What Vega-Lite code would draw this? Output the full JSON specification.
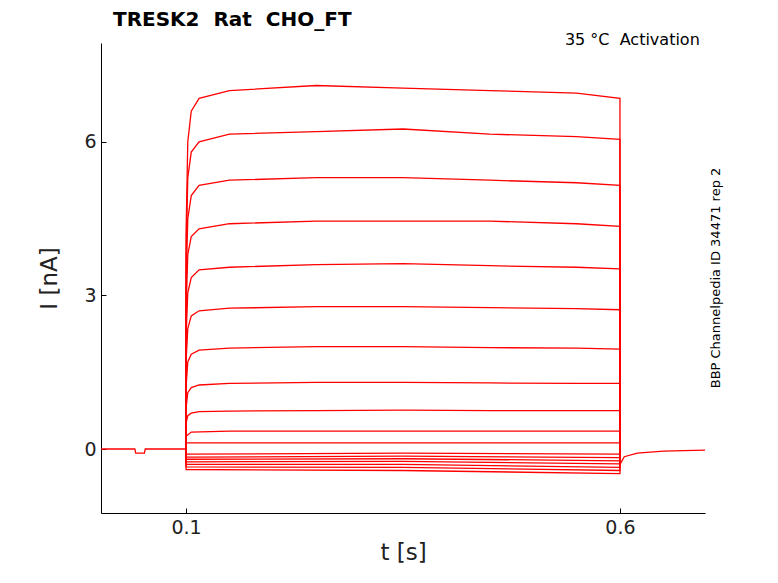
{
  "$schema": "https://vega.github.io/schema/vega-lite/v6.json",
  "width": 604,
  "height": 470,
  "autosize": {"type": "none"},
  "padding": {"left": 101, "top": 43, "right": 73, "bottom": 70},
  "config": {
    "font": "DejaVu Sans",
    "view": {"stroke": null},
    "axis": {"grid": false, "domainColor": "#000", "tickColor": "#000", "labelColor": "#222", "titleColor": "#222", "labelFontSize": 19, "titleFontSize": 23, "titleFontWeight": "normal", "tickSize": -5, "labelPadding": 10}
  },
  "title": {"text": "TRESK2\u00a0\u00a0Rat\u00a0\u00a0CHO_FT", "anchor": "start", "frame": "group", "offset": 2, "fontSize": 20, "fontWeight": "bold", "dx": 12},
  "data": {"values": [
    {"k": "base", "o": 0, "t": 0.002, "i": 0}, {"k": "base", "o": 1, "t": 0.041, "i": 0}, {"k": "base", "o": 2, "t": 0.042, "i": -0.08}, {"k": "base", "o": 3, "t": 0.052, "i": -0.08}, {"k": "base", "o": 4, "t": 0.053, "i": 0}, {"k": "base", "o": 5, "t": 0.1, "i": 0},
    {"k": "tail", "o": 0, "t": 0.6, "i": -0.3}, {"k": "tail", "o": 1, "t": 0.605, "i": -0.15}, {"k": "tail", "o": 2, "t": 0.62, "i": -0.08}, {"k": "tail", "o": 3, "t": 0.65, "i": -0.04}, {"k": "tail", "o": 4, "t": 0.698, "i": -0.02},
    {"k": "t1", "o": 0, "t": 0.1, "i": 0}, {"k": "t1", "o": 1, "t": 0.1, "i": 4.2}, {"k": "t1", "o": 2, "t": 0.102, "i": 6.0}, {"k": "t1", "o": 3, "t": 0.106, "i": 6.6}, {"k": "t1", "o": 4, "t": 0.115, "i": 6.85}, {"k": "t1", "o": 5, "t": 0.15, "i": 7.0}, {"k": "t1", "o": 6, "t": 0.25, "i": 7.1}, {"k": "t1", "o": 7, "t": 0.35, "i": 7.05}, {"k": "t1", "o": 8, "t": 0.45, "i": 7.0}, {"k": "t1", "o": 9, "t": 0.55, "i": 6.95}, {"k": "t1", "o": 10, "t": 0.6, "i": 6.85}, {"k": "t1", "o": 11, "t": 0.6, "i": 0},
    {"k": "t2", "o": 0, "t": 0.1, "i": 0}, {"k": "t2", "o": 1, "t": 0.1, "i": 3.7}, {"k": "t2", "o": 2, "t": 0.102, "i": 5.3}, {"k": "t2", "o": 3, "t": 0.106, "i": 5.8}, {"k": "t2", "o": 4, "t": 0.115, "i": 6.0}, {"k": "t2", "o": 5, "t": 0.15, "i": 6.15}, {"k": "t2", "o": 6, "t": 0.25, "i": 6.2}, {"k": "t2", "o": 7, "t": 0.35, "i": 6.25}, {"k": "t2", "o": 8, "t": 0.45, "i": 6.15}, {"k": "t2", "o": 9, "t": 0.55, "i": 6.1}, {"k": "t2", "o": 10, "t": 0.6, "i": 6.05}, {"k": "t2", "o": 11, "t": 0.6, "i": 0},
    {"k": "t3", "o": 0, "t": 0.1, "i": 0}, {"k": "t3", "o": 1, "t": 0.1, "i": 3.2}, {"k": "t3", "o": 2, "t": 0.102, "i": 4.5}, {"k": "t3", "o": 3, "t": 0.106, "i": 4.95}, {"k": "t3", "o": 4, "t": 0.115, "i": 5.15}, {"k": "t3", "o": 5, "t": 0.15, "i": 5.25}, {"k": "t3", "o": 6, "t": 0.25, "i": 5.3}, {"k": "t3", "o": 7, "t": 0.35, "i": 5.3}, {"k": "t3", "o": 8, "t": 0.45, "i": 5.25}, {"k": "t3", "o": 9, "t": 0.55, "i": 5.2}, {"k": "t3", "o": 10, "t": 0.6, "i": 5.15}, {"k": "t3", "o": 11, "t": 0.6, "i": 0},
    {"k": "t4", "o": 0, "t": 0.1, "i": 0}, {"k": "t4", "o": 1, "t": 0.1, "i": 2.7}, {"k": "t4", "o": 2, "t": 0.102, "i": 3.8}, {"k": "t4", "o": 3, "t": 0.106, "i": 4.15}, {"k": "t4", "o": 4, "t": 0.115, "i": 4.3}, {"k": "t4", "o": 5, "t": 0.15, "i": 4.4}, {"k": "t4", "o": 6, "t": 0.25, "i": 4.45}, {"k": "t4", "o": 7, "t": 0.35, "i": 4.45}, {"k": "t4", "o": 8, "t": 0.45, "i": 4.45}, {"k": "t4", "o": 9, "t": 0.55, "i": 4.4}, {"k": "t4", "o": 10, "t": 0.6, "i": 4.35}, {"k": "t4", "o": 11, "t": 0.6, "i": 0},
    {"k": "t5", "o": 0, "t": 0.1, "i": 0}, {"k": "t5", "o": 1, "t": 0.1, "i": 2.2}, {"k": "t5", "o": 2, "t": 0.102, "i": 3.05}, {"k": "t5", "o": 3, "t": 0.106, "i": 3.35}, {"k": "t5", "o": 4, "t": 0.115, "i": 3.5}, {"k": "t5", "o": 5, "t": 0.15, "i": 3.55}, {"k": "t5", "o": 6, "t": 0.25, "i": 3.6}, {"k": "t5", "o": 7, "t": 0.35, "i": 3.62}, {"k": "t5", "o": 8, "t": 0.45, "i": 3.58}, {"k": "t5", "o": 9, "t": 0.55, "i": 3.55}, {"k": "t5", "o": 10, "t": 0.6, "i": 3.52}, {"k": "t5", "o": 11, "t": 0.6, "i": 0},
    {"k": "t6", "o": 0, "t": 0.1, "i": 0}, {"k": "t6", "o": 1, "t": 0.1, "i": 1.7}, {"k": "t6", "o": 2, "t": 0.102, "i": 2.35}, {"k": "t6", "o": 3, "t": 0.106, "i": 2.6}, {"k": "t6", "o": 4, "t": 0.115, "i": 2.7}, {"k": "t6", "o": 5, "t": 0.15, "i": 2.75}, {"k": "t6", "o": 6, "t": 0.25, "i": 2.78}, {"k": "t6", "o": 7, "t": 0.35, "i": 2.78}, {"k": "t6", "o": 8, "t": 0.45, "i": 2.76}, {"k": "t6", "o": 9, "t": 0.55, "i": 2.74}, {"k": "t6", "o": 10, "t": 0.6, "i": 2.72}, {"k": "t6", "o": 11, "t": 0.6, "i": 0},
    {"k": "t7", "o": 0, "t": 0.1, "i": 0}, {"k": "t7", "o": 1, "t": 0.1, "i": 1.2}, {"k": "t7", "o": 2, "t": 0.102, "i": 1.7}, {"k": "t7", "o": 3, "t": 0.106, "i": 1.85}, {"k": "t7", "o": 4, "t": 0.115, "i": 1.93}, {"k": "t7", "o": 5, "t": 0.15, "i": 1.97}, {"k": "t7", "o": 6, "t": 0.25, "i": 2.0}, {"k": "t7", "o": 7, "t": 0.35, "i": 2.0}, {"k": "t7", "o": 8, "t": 0.45, "i": 1.98}, {"k": "t7", "o": 9, "t": 0.55, "i": 1.97}, {"k": "t7", "o": 10, "t": 0.6, "i": 1.95}, {"k": "t7", "o": 11, "t": 0.6, "i": 0},
    {"k": "t8", "o": 0, "t": 0.1, "i": 0}, {"k": "t8", "o": 1, "t": 0.1, "i": 0.8}, {"k": "t8", "o": 2, "t": 0.102, "i": 1.1}, {"k": "t8", "o": 3, "t": 0.106, "i": 1.2}, {"k": "t8", "o": 4, "t": 0.115, "i": 1.25}, {"k": "t8", "o": 5, "t": 0.15, "i": 1.28}, {"k": "t8", "o": 6, "t": 0.25, "i": 1.3}, {"k": "t8", "o": 7, "t": 0.35, "i": 1.3}, {"k": "t8", "o": 8, "t": 0.45, "i": 1.29}, {"k": "t8", "o": 9, "t": 0.55, "i": 1.28}, {"k": "t8", "o": 10, "t": 0.6, "i": 1.28}, {"k": "t8", "o": 11, "t": 0.6, "i": 0},
    {"k": "t9", "o": 0, "t": 0.1, "i": 0}, {"k": "t9", "o": 1, "t": 0.1, "i": 0.5}, {"k": "t9", "o": 2, "t": 0.102, "i": 0.65}, {"k": "t9", "o": 3, "t": 0.106, "i": 0.7}, {"k": "t9", "o": 4, "t": 0.115, "i": 0.73}, {"k": "t9", "o": 5, "t": 0.15, "i": 0.74}, {"k": "t9", "o": 6, "t": 0.25, "i": 0.75}, {"k": "t9", "o": 7, "t": 0.35, "i": 0.76}, {"k": "t9", "o": 8, "t": 0.45, "i": 0.75}, {"k": "t9", "o": 9, "t": 0.55, "i": 0.75}, {"k": "t9", "o": 10, "t": 0.6, "i": 0.75}, {"k": "t9", "o": 11, "t": 0.6, "i": 0},
    {"k": "t10", "o": 0, "t": 0.1, "i": 0}, {"k": "t10", "o": 1, "t": 0.1, "i": 0.25}, {"k": "t10", "o": 2, "t": 0.106, "i": 0.33}, {"k": "t10", "o": 3, "t": 0.15, "i": 0.35}, {"k": "t10", "o": 4, "t": 0.6, "i": 0.35}, {"k": "t10", "o": 5, "t": 0.6, "i": 0},
    {"k": "t11", "o": 0, "t": 0.1, "i": 0}, {"k": "t11", "o": 1, "t": 0.1, "i": 0.12}, {"k": "t11", "o": 2, "t": 0.6, "i": 0.12}, {"k": "t11", "o": 3, "t": 0.6, "i": 0},
    {"k": "t12", "o": 0, "t": 0.1, "i": 0}, {"k": "t12", "o": 1, "t": 0.1, "i": -0.1}, {"k": "t12", "o": 2, "t": 0.35, "i": -0.08}, {"k": "t12", "o": 3, "t": 0.6, "i": -0.1}, {"k": "t12", "o": 4, "t": 0.6, "i": 0},
    {"k": "t13", "o": 0, "t": 0.1, "i": 0}, {"k": "t13", "o": 1, "t": 0.1, "i": -0.16}, {"k": "t13", "o": 2, "t": 0.35, "i": -0.14}, {"k": "t13", "o": 3, "t": 0.6, "i": -0.17}, {"k": "t13", "o": 4, "t": 0.6, "i": 0},
    {"k": "t14", "o": 0, "t": 0.1, "i": 0}, {"k": "t14", "o": 1, "t": 0.1, "i": -0.2}, {"k": "t14", "o": 2, "t": 0.35, "i": -0.19}, {"k": "t14", "o": 3, "t": 0.6, "i": -0.23}, {"k": "t14", "o": 4, "t": 0.6, "i": 0},
    {"k": "t15", "o": 0, "t": 0.1, "i": 0}, {"k": "t15", "o": 1, "t": 0.1, "i": -0.25}, {"k": "t15", "o": 2, "t": 0.35, "i": -0.24}, {"k": "t15", "o": 3, "t": 0.6, "i": -0.29}, {"k": "t15", "o": 4, "t": 0.6, "i": 0},
    {"k": "t16", "o": 0, "t": 0.1, "i": 0}, {"k": "t16", "o": 1, "t": 0.1, "i": -0.3}, {"k": "t16", "o": 2, "t": 0.35, "i": -0.3}, {"k": "t16", "o": 3, "t": 0.6, "i": -0.36}, {"k": "t16", "o": 4, "t": 0.6, "i": 0},
    {"k": "t17", "o": 0, "t": 0.1, "i": 0}, {"k": "t17", "o": 1, "t": 0.1, "i": -0.35}, {"k": "t17", "o": 2, "t": 0.35, "i": -0.36}, {"k": "t17", "o": 3, "t": 0.6, "i": -0.42}, {"k": "t17", "o": 4, "t": 0.6, "i": 0},
    {"k": "t18", "o": 0, "t": 0.1, "i": 0}, {"k": "t18", "o": 1, "t": 0.1, "i": -0.4}, {"k": "t18", "o": 2, "t": 0.35, "i": -0.42}, {"k": "t18", "o": 3, "t": 0.6, "i": -0.48}, {"k": "t18", "o": 4, "t": 0.6, "i": 0}
  ]},
  "layer": [
    {
      "mark": {"type": "line", "color": "red", "strokeWidth": 1.3},
      "encoding": {
        "x": {"field": "t", "type": "quantitative", "title": "t [s]", "scale": {"domain": [0.002, 0.698], "nice": false, "zero": false}, "axis": {"values": [0.1, 0.6], "format": ".1f"}},
        "y": {"field": "i", "type": "quantitative", "title": "I [nA]", "scale": {"domain": [-1.25, 7.93], "nice": false}, "axis": {"values": [0, 3, 6], "titlePadding": 22}},
        "detail": {"field": "k"},
        "order": {"field": "o"}
      }
    },
    {
      "data": {"values": [{}]},
      "mark": {"type": "text", "align": "right", "baseline": "middle", "fontSize": 16, "color": "#000"},
      "encoding": {"x": {"datum": 0.692}, "y": {"datum": 7.99}, "text": {"value": "35 °C\u00a0\u00a0Activation"}}
    },
    {
      "data": {"values": [{}]},
      "mark": {"type": "text", "angle": 270, "align": "center", "baseline": "middle", "fontSize": 13, "color": "#000"},
      "encoding": {"x": {"datum": 0.711}, "y": {"datum": 3.34}, "text": {"value": "BBP Channelpedia ID 34471 rep 2"}}
    }
  ]
}
